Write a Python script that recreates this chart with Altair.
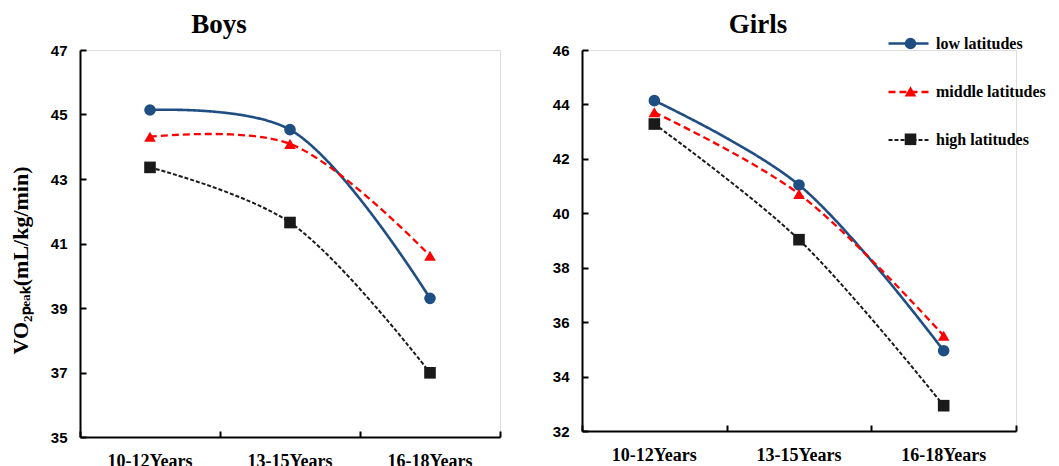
import altair as alt
import pandas as pd

categories = ["10-12Years", "13-15Years", "16-18Years"]
series_names = ["low latitudes", "middle latitudes", "high latitudes"]

boys_low = [45.14, 44.53, 39.30]
boys_mid = [44.31, 44.09, 40.62]
boys_high = [43.36, 41.65, 36.99]

girls_low = [44.14, 41.04, 34.95]
girls_mid = [43.71, 40.71, 35.50]
girls_high = [43.28, 39.03, 32.93]

boys_ticks = [35, 37, 39, 41, 43, 45, 47]
girls_ticks = [32, 34, 36, 38, 40, 42, 44, 46]

colors = ["#1f4e82", "#ff0000", "#1a1a1a"]
dashes = [[1, 0], [7, 4], [4, 2]]
widths = [2.6, 2.0, 1.5]
shapes = ["circle", "triangle-up", "square"]

SERIF = "Liberation Serif"
SANS = "Liberation Sans"

# marker legend uses its own (hidden-label) copy of the series names
marker_names = [n + " " for n in series_names]


def make_df(low, mid, high):
    rows = []
    for name, mname, vals in zip(series_names, marker_names, [low, mid, high]):
        for cat, v in zip(categories, vals):
            rows.append({"age": cat, "series": name, "series_p": mname, "value": v})
    return pd.DataFrame(rows)


line_legend = alt.Legend(orient="none", legendX=807, legendY=-28, title=None,
                         symbolType="stroke", symbolSize=1600, padding=0,
                         labelFont=SERIF, labelFontWeight="bold",
                         labelFontSize=16, labelColor="black",
                         labelOffset=6, rowPadding=18.5)
pt_legend = alt.Legend(orient="none", legendX=823.5, legendY=-13.5, title=None,
                       padding=0, labelOpacity=0, symbolSize=135,
                       labelFontSize=1, labelOffset=0, rowPadding=29.9)


def panel(df, title, ydomain, yticks, w, h, ytitle, title_dx):
    xscale = alt.Scale(type="band", domain=categories, paddingInner=0, paddingOuter=0)
    yscale = alt.Scale(domain=ydomain, nice=False, zero=False)

    yaxis_kw = dict(values=yticks, grid=False, tickSize=0, labelPadding=13,
                    domainColor="black", domainWidth=2,
                    labelFont=SANS, labelFontWeight="bold", labelFontSize=15,
                    labelColor="black")
    if ytitle:
        yaxis_kw.update(title=ytitle, titleFont=SERIF, titleFontWeight="bold",
                        titleFontSize=22, titleColor="black",
                        titleX=-48, titleY=210, titleAngle=270, titleBaseline="bottom",
                        titleAlign="center")
    else:
        yaxis_kw.update(title=None)

    x_main = alt.X("age:N", sort=categories, scale=xscale,
                   axis=alt.Axis(title=None, tickSize=0, labelPadding=15, labelAngle=0,
                                 domainColor="black", domainWidth=2,
                                 labelFont=SERIF, labelFontWeight="bold",
                                 labelFontSize=18, labelColor="black"))
    y_main = alt.Y("value:Q", scale=yscale, axis=alt.Axis(**yaxis_kw))

    x_tick = alt.X("age:N", sort=categories, scale=xscale,
                   axis=alt.Axis(orient="top", offset=-h, labels=False, domain=False,
                                 tickSize=6, tickWidth=2, tickColor="black", grid=False,
                                 tickBand="extent", title=None))
    y_tick = alt.Y("value:Q", scale=yscale,
                   axis=alt.Axis(orient="right", offset=-w, labels=False, domain=False,
                                 values=yticks, tickSize=6, tickWidth=2,
                                 tickColor="black", grid=False, title=None))

    lines = alt.Chart(df).mark_line(interpolate="catmull-rom").encode(
        x=x_main,
        y=y_main,
        stroke=alt.Stroke("series:N", scale=alt.Scale(domain=series_names, range=colors),
                          legend=line_legend),
        strokeDash=alt.StrokeDash("series:N", scale=alt.Scale(domain=series_names, range=dashes),
                                  legend=line_legend),
        strokeWidth=alt.StrokeWidth("series:N", scale=alt.Scale(domain=series_names, range=widths),
                                    legend=line_legend),
    )
    points = alt.Chart(df).mark_point(filled=True, size=135, opacity=1).encode(
        x=x_tick,
        y=y_tick,
        shape=alt.Shape("series_p:N", scale=alt.Scale(domain=marker_names, range=shapes),
                        legend=pt_legend),
        fill=alt.Fill("series_p:N", scale=alt.Scale(domain=marker_names, range=colors),
                      legend=pt_legend),
    )
    return alt.layer(lines, points).resolve_axis(x="independent", y="independent").properties(
        width=w, height=h,
        title=alt.TitleParams(title, font=SERIF, fontSize=27, fontWeight="bold",
                              color="black", offset=4, anchor="middle", dx=title_dx),
    )


boys = panel(make_df(boys_low, boys_mid, boys_high), "Boys", [35, 47], boys_ticks,
             420, 387, "VO₂ₚₑₐₖ(mL/kg/min)", -71)
girls = panel(make_df(girls_low, girls_mid, girls_high), "Girls", [32, 46], girls_ticks,
              434, 381, None, -41)

chart = alt.hconcat(boys, girls, spacing=49).properties(
    padding={"left": 0, "top": 2, "right": 0, "bottom": 5}
).configure_view(stroke=None).configure(background="white")

chart.save("out.html", embed_options={"renderer": "svg", "actions": False})
